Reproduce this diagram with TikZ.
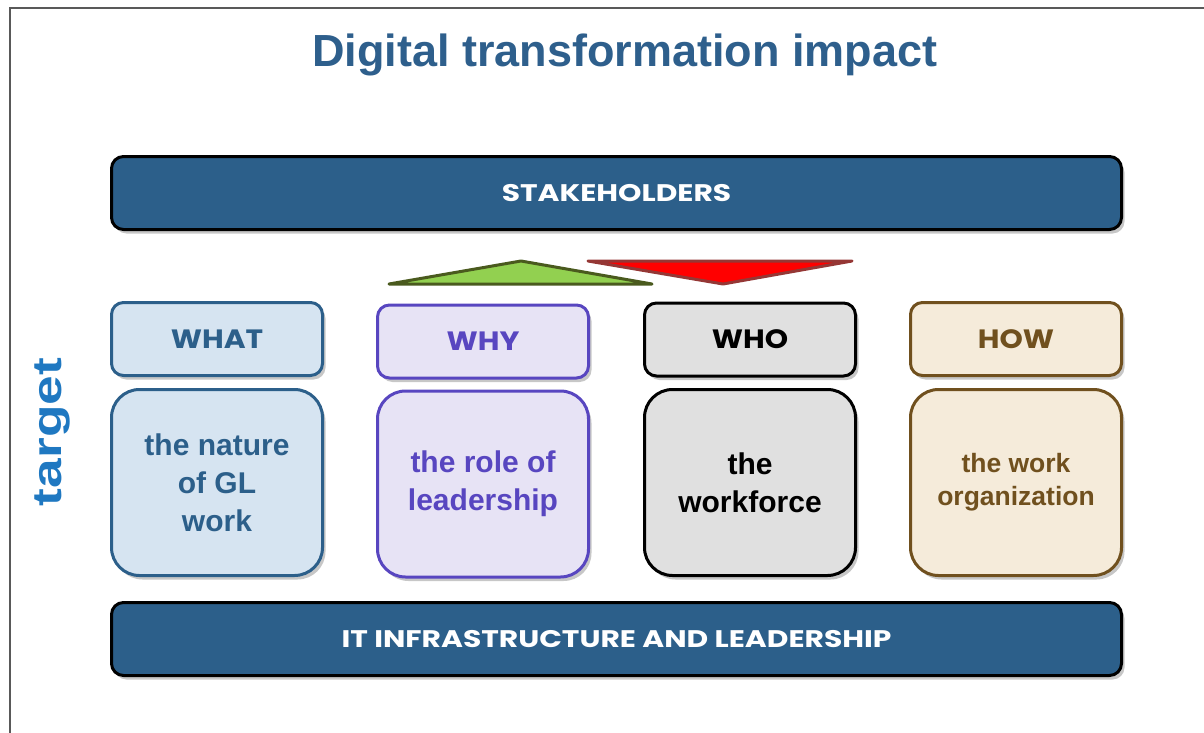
\documentclass[tikz,border=0pt]{standalone}
\usepackage{fontspec}
\setmainfont{Liberation Sans}
\newfontfamily\gothic{Poppins}
\usetikzlibrary{shadows}

\definecolor{BarBlue}{HTML}{2C5F8A}
\definecolor{TitleBlue}{HTML}{2E5F8C}
\definecolor{TargetBlue}{HTML}{1F78C1}
\definecolor{WhatFill}{HTML}{D6E4F1}
\definecolor{WhyFill}{HTML}{E7E3F5}
\definecolor{WhyLine}{HTML}{5846C0}
\definecolor{WhoFill}{HTML}{E0E0E0}
\definecolor{HowFill}{HTML}{F5EBDA}
\definecolor{HowLine}{HTML}{70501E}
\definecolor{UpGreen}{HTML}{92D050}
\definecolor{UpLine}{HTML}{4A5A1E}
\definecolor{DownLine}{HTML}{953735}

\newcommand{\wide}[2][1.24]{\scalebox{#1}[1]{#2}}

\tikzset{
  shade/.style={drop shadow={shadow xshift=3pt,shadow yshift=-4pt,opacity=0.22,fill=black}},
  bar/.style={shade,draw=black,fill=BarBlue,line width=3pt,rounded corners=12pt,
    minimum width=1010pt,minimum height=73pt,text=white,
    font=\gothic\bfseries\fontsize{24}{28}\selectfont},
  head/.style={shade,line width=3pt,rounded corners=12pt,
    minimum width=211pt,minimum height=73pt,
    font=\gothic\bfseries\fontsize{26.5}{30}\selectfont},
  body/.style={shade,line width=3pt,rounded corners=28pt,
    minimum width=211pt,minimum height=186pt,align=center,
    font=\bfseries\fontsize{30}{38}\selectfont},
}

\begin{document}
\begin{tikzpicture}[x=1pt,y=-1pt]
\useasboundingbox (0,0) rectangle (1204,733);
%% frame
\draw[line width=1.5pt,black!65] (10,733) -- (10,8) -- (1204,8);

%% title
\node[text=TitleBlue,font=\bfseries\fontsize{45}{50}\selectfont] (title) at (625,55) {Digital transformation impact};

%% side label
\node[rotate=90,text=TargetBlue,font=\bfseries\fontsize{41}{46}\selectfont] (target) at (52,432) {\scalebox{1.3}[1]{target}};

%% bars
\node[bar] (stake) at (616.5,193) {\wide{STAKEHOLDERS}};
\node[bar] (infra) at (616.5,639) {\wide{IT INFRASTRUCTURE AND LEADERSHIP}};

%% balance triangles
\draw[line width=3pt,line join=round,draw=UpLine,fill=UpGreen]
	(389,284) -- (521,261) -- (652,284) -- cycle;
\draw[line width=3pt,line join=round,draw=DownLine,fill=red]
	(588,261) -- (852,261) -- (723,284) -- cycle;

%% WHAT
\node[head,draw=BarBlue,fill=WhatFill,text=BarBlue] (what) at (217,339) {\wide[1.12]{WHAT}};
\node[body,draw=BarBlue,fill=WhatFill,text=BarBlue] (whatbox) at (217,482.5) {the nature\\of GL\\work};
%% WHY
\node[head,draw=WhyLine,fill=WhyFill,text=WhyLine] (why) at (483,341.5) {\wide[1.12]{WHY}};
\node[body,draw=WhyLine,fill=WhyFill,text=WhyLine] (whybox) at (483,484) {the role of\\leadership};
%% WHO
\node[head,draw=black,fill=WhoFill,text=black] (who) at (750,339.5) {\wide[1.12]{WHO}};
\node[body,draw=black,fill=WhoFill,text=black] (whobox) at (750,482.5) {the\\workforce};
%% HOW
\node[head,draw=HowLine,fill=HowFill,text=HowLine] (how) at (1016,339) {\wide[1.12]{HOW}};
\node[body,draw=HowLine,fill=HowFill,text=HowLine,font=\bfseries\fontsize{26.5}{33}\selectfont] (howbox) at (1016,482.5) {the work\\organization};
\end{tikzpicture}
\end{document}
